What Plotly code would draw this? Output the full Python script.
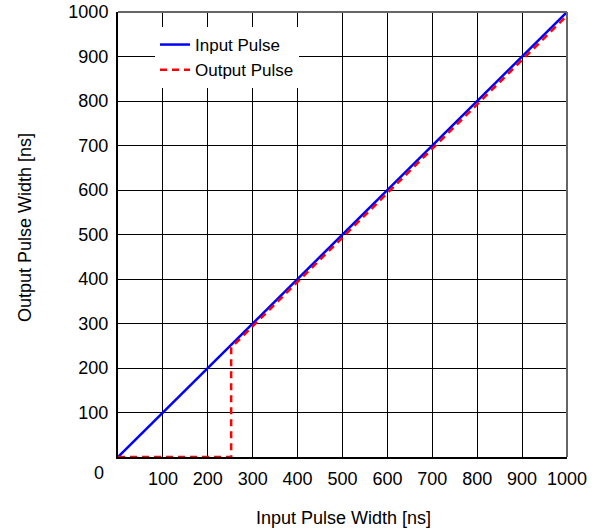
import plotly.graph_objects as go

# Data
input_x = [0, 1000]
input_y = [0, 1000]
output_x = [0, 252, 252, 400, 500, 600, 700, 800, 900, 1000]
output_y = [0, 0, 246, 394, 494, 594, 694, 794, 894, 992]
x_ticks = [100, 200, 300, 400, 500, 600, 700, 800, 900, 1000]
y_ticks = [100, 200, 300, 400, 500, 600, 700, 800, 900, 1000]

W, H = 603, 532
PL, PR, PT, PB = 118, 567, 12, 457  # target plot box in page pixels
L = PL
R = W - PR
T = PT
B = H - PB
FONT = "Liberation Sans, Arial, sans-serif"
FS = 18

fig = go.Figure()
fig.add_trace(go.Scatter(x=input_x, y=input_y, mode="lines", name="Input Pulse",
                         line=dict(color="#0000ff", width=2.5)))
fig.add_trace(go.Scatter(x=output_x, y=output_y, mode="lines", name="Output Pulse",
                         line=dict(color="#ff0000", width=2.5, dash="7px,5px")))

pw = PR - PL
ph = PB - PT


def px(xp):
    return (xp - PL) / pw


def py(yp):
    return (PB - yp) / ph


fig.update_layout(
    width=W, height=H,
    margin=dict(l=L, r=R, t=T, b=B, pad=0),
    paper_bgcolor="white", plot_bgcolor="white",
    font=dict(family=FONT, size=FS, color="#000000"),
    showlegend=True,
    legend=dict(x=px(155), y=py(27), xanchor="left", yanchor="top",
                bgcolor="white", borderwidth=0, font=dict(size=17),
                tracegroupgap=0),
    xaxis=dict(range=[0, 1000], tickvals=x_ticks, ticktext=[str(v) for v in x_ticks],
               showgrid=True, gridcolor="#000000", gridwidth=1,
               showline=True, linecolor="#000000", linewidth=2,
               ticks="", zeroline=False, layer="below traces", automargin=False,
               ticklabelstandoff=4, ticklabeloverflow="allow"),
    yaxis=dict(range=[0, 1000], tickvals=y_ticks, ticktext=[str(v) for v in y_ticks],
               showgrid=True, gridcolor="#000000", gridwidth=1,
               showline=True, linecolor="#000000", linewidth=2,
               ticks="", zeroline=False, layer="below traces", automargin=False,
               ticklabelstandoff=4, ticklabeloverflow="allow"),
    shapes=[
        dict(type="line", xref="paper", yref="paper", x0=0, x1=1, y0=1, y1=1,
             line=dict(color="#666666", width=2)),
        dict(type="line", xref="paper", yref="paper", x0=1, x1=1, y0=0, y1=1,
             line=dict(color="#666666", width=2)),
    ],
    annotations=[
        dict(text="0", xref="paper", yref="paper", x=px(106), y=py(473),
             xanchor="right", yanchor="middle", showarrow=False, font=dict(size=FS)),
        dict(text="Input Pulse Width [ns]", xref="paper", yref="paper",
             x=px(343), y=py(518), xanchor="center", yanchor="middle",
             showarrow=False, font=dict(size=FS)),
        dict(text="Output Pulse Width [ns]", xref="paper", yref="paper",
             x=px(25), y=py(228), xanchor="center", yanchor="middle",
             textangle=-90, showarrow=False, font=dict(size=FS)),
    ],
)

fig.write_html("out.html", config={"displayModeBar": False},
               post_script="document.body.style.margin='0';")
